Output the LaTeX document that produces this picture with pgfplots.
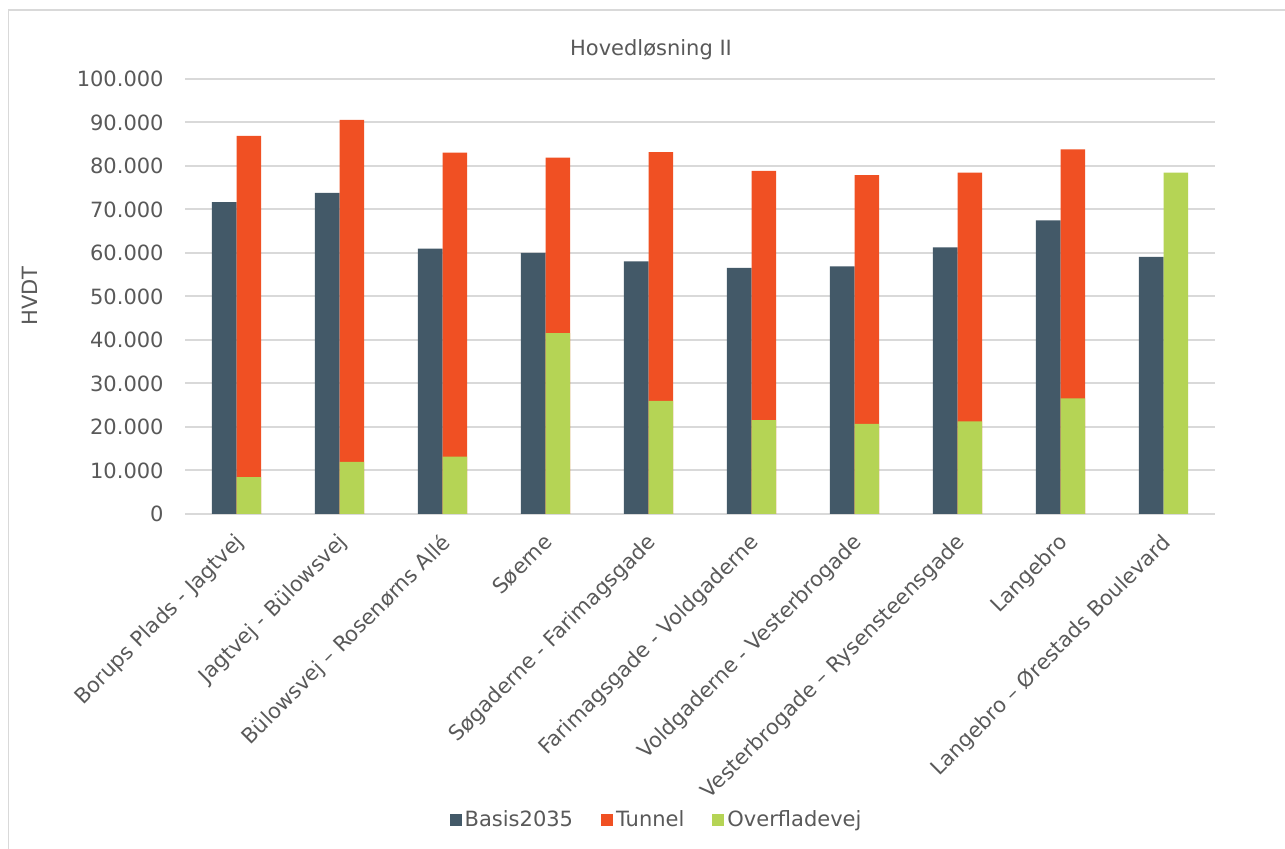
\documentclass[border=0pt]{standalone}
\usepackage{fontspec}
\setmainfont{DejaVu Sans}
\usepackage{pgfplots}
\pgfplotsset{compat=1.18}
\usepackage{pgfplotstable}
\definecolor{basis}{RGB}{67,89,104}
\definecolor{tunnel}{RGB}{240,80,35}
\definecolor{overf}{RGB}{181,212,85}
\definecolor{txt}{RGB}{89,89,89}
\definecolor{gridc}{RGB}{217,217,217}

\pgfplotstableread{
x basis
0 71700
1 73800
2 61000
3 60000
4 58100
5 56600
6 56900
7 61300
8 67500
9 59100
}\basisdata

\pgfplotstableread{
x tunnel
0 86900
1 90600
2 83100
3 81900
4 83200
5 78900
6 77900
7 78500
8 83800
}\tunneldata

\pgfplotstableread{
x overf
0 8500
1 12000
2 13200
3 41600
4 26000
5 21600
6 20700
7 21300
8 26600
9 78500
}\overfdata

\begin{document}
\fontsize{10.5}{12.6}\selectfont
\begin{tikzpicture}
\useasboundingbox (0,0) rectangle (642.5pt,424.5pt);
\fill[white] (0,0) rectangle (642.5pt,424.5pt);
\draw[gridc, line width=0.75pt] (4.25pt,0) -- (4.25pt,419.5pt) -- (645pt,419.5pt);
\begin{axis}[
  at={(92.5pt,167.5pt)}, anchor=south west,
  scale only axis, width=515pt, height=217.5pt,
  xmin=-0.5, xmax=9.5, ymin=0, ymax=100000,
  scaled y ticks=false,
  ytick={0,10000,20000,30000,40000,50000,60000,70000,80000,90000,100000},
  yticklabels={0,{10.000},{20.000},{30.000},{40.000},{50.000},{60.000},{70.000},{80.000},{90.000},{100.000}},
  xtick={0,...,9},
  xticklabels={{Borups Plads - Jagtvej},{Jagtvej - Bülowsvej},{Bülowsvej – Rosenørns Allé},{Søerne},{Søgaderne - Farimagsgade},{Farimagsgade - Voldgaderne},{Voldgaderne - Vesterbrogade},{Vesterbrogade – Rysensteensgade},{Langebro},{Langebro – Ørestads Boulevard}},
  axis line style={draw=none},
  major tick length=0pt,
  ymajorgrids, grid style={gridc, line width=1pt},
  tick label style={text=txt},
  yticklabel style={anchor=east, xshift=-7pt},
  xticklabel style={xshift=-1.5pt, yshift=-4pt, rotate=45, anchor=north east},
  bar width=0.24,
  legend style={at={(0.4583,-0.7034)}, anchor=center, draw=none, fill=none,
    text=txt, legend columns=3, nodes={inner sep=1.5pt},
    /tikz/every even column/.append style={column sep=12.5pt}},
]
\addplot[ybar, fill=basis, draw=none, bar shift=-0.12,
  legend image code/.code={\fill[basis] (0pt,-3pt) rectangle (6pt,3pt);}]
  table[x=x, y=basis] {\basisdata};
\addlegendentry{Basis2035}
\addplot[ybar, fill=tunnel, draw=none, bar shift=0.12,
  legend image code/.code={\fill[tunnel] (0pt,-3pt) rectangle (6pt,3pt);}]
  table[x=x, y=tunnel] {\tunneldata};
\addlegendentry{Tunnel}
\addplot[ybar, fill=overf, draw=none, bar shift=0.12,
  legend image code/.code={\fill[overf] (0pt,-3pt) rectangle (6pt,3pt);}]
  table[x=x, y=overf] {\overfdata};
\addlegendentry{Overfladevej}
\end{axis}
\node[text=txt] at (325.5pt,399.5pt) {Hovedløsning II};
\node[text=txt, rotate=90] at (15pt,276.5pt) {HVDT};
\end{tikzpicture}
\end{document}
